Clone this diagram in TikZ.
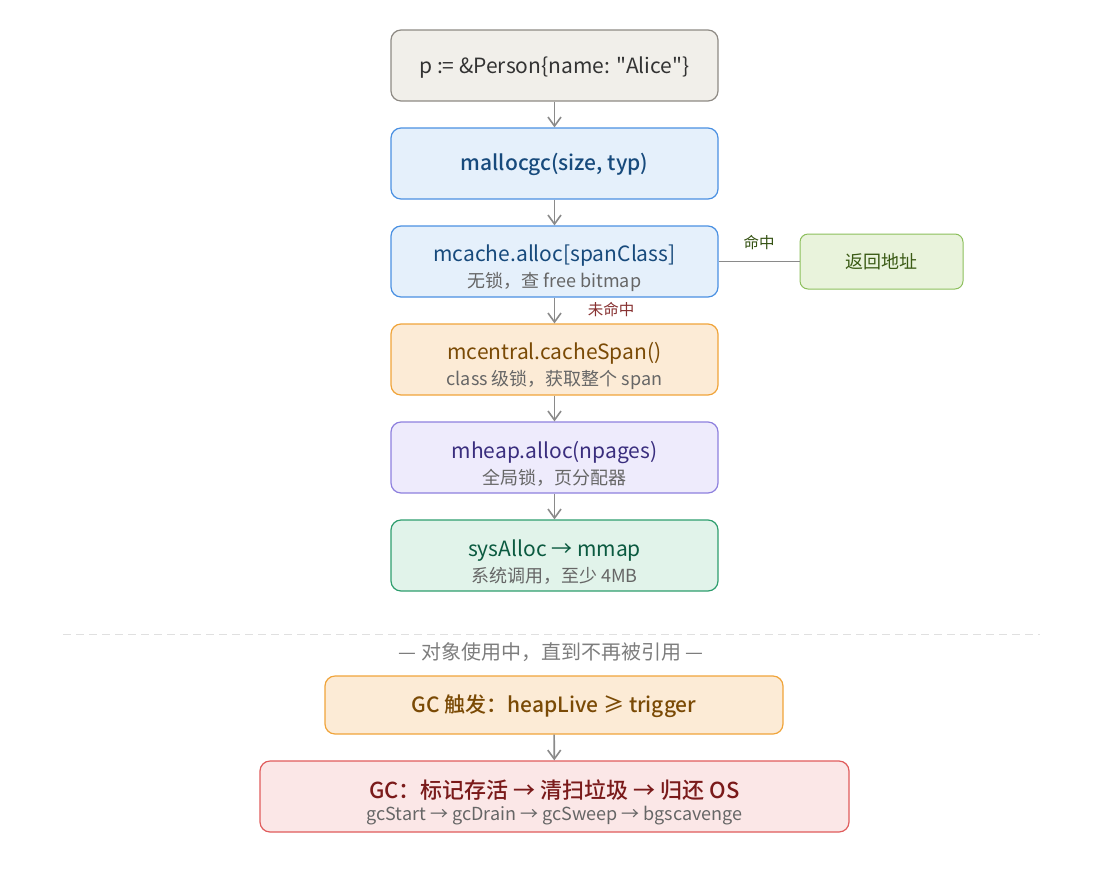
\documentclass[tikz,border=0pt]{standalone}
\usepackage{fontspec}
\setmainfont{Noto Sans CJK SC}[BoldFont={Noto Sans CJK SC Medium}]
\usetikzlibrary{arrows.meta}
\definecolor{lnGray}{HTML}{8A8A8A}
\definecolor{txGray}{HTML}{666666}
\definecolor{srcFill}{HTML}{F1EFEA}
\definecolor{srcLine}{HTML}{8E8A84}
\definecolor{srcText}{HTML}{333333}
\definecolor{blueFill}{HTML}{E5F0FB}
\definecolor{blueLine}{HTML}{4A90E2}
\definecolor{blueText}{HTML}{174A7C}
\definecolor{orFill}{HTML}{FCEBD6}
\definecolor{orLine}{HTML}{F0A43A}
\definecolor{orText}{HTML}{7A4A05}
\definecolor{puFill}{HTML}{EEEBFC}
\definecolor{puLine}{HTML}{8E80DE}
\definecolor{puText}{HTML}{3A2E7E}
\definecolor{grFill}{HTML}{E1F3EA}
\definecolor{grLine}{HTML}{2E9E6E}
\definecolor{grText}{HTML}{0B5A40}
\definecolor{okFill}{HTML}{E9F3DC}
\definecolor{okLine}{HTML}{8CBF5C}
\definecolor{okText}{HTML}{3A5A14}
\definecolor{rdFill}{HTML}{FBE7E7}
\definecolor{rdLine}{HTML}{E05C5C}
\definecolor{rdText}{HTML}{7A1A1A}
\newcommand{\ttl}{\rule{0pt}{20pt}\fontsize{21}{29}\selectfont}
\newcommand{\twoline}[2]{\rule{0pt}{30pt}\fontsize{21}{29}\selectfont #1\\[5pt] \fontsize{18}{28}\selectfont\color{txGray}#2}

\begin{document}
\begin{tikzpicture}[x=1pt,y=-1pt,
  stagebox/.style={rectangle, rounded corners=10pt, line width=1.2pt, minimum width=327pt, minimum height=71pt, inner sep=0pt, align=center, text centered},
  flow/.style={draw=lnGray, line width=1.6pt, -{Straight Barb[length=9pt,width=13pt]}},
  tag/.style={font=\fontsize{15.5}{18}\selectfont, inner sep=0pt}]
\useasboundingbox (0,0) rectangle (1119,868);

\node (src)[stagebox, draw=srcLine, fill=srcFill, text=srcText] at (554.5,65.5) {\ttl p := \&Person\{name: \textquotedbl Alice\textquotedbl\}};
\node (malloc)[stagebox, draw=blueLine, fill=blueFill, text=blueText] at (554.5,163.5) {\ttl\bfseries mallocgc(size, typ)};
\node (mcache)[stagebox, draw=blueLine, fill=blueFill, text=blueText] at (554.5,261.5) {\twoline{mcache.alloc[spanClass]}{无锁，查 free bitmap}};
\node (ret)[rectangle, rounded corners=8pt, line width=1pt, draw=okLine, fill=okFill, text=okText, minimum width=163pt, minimum height=55pt, font=\fontsize{18}{20}\selectfont] at (881.5,261.5) {返回地址};
\node (mcentral)[stagebox, draw=orLine, fill=orFill, text=orText] at (554.5,359.5) {\twoline{mcentral.cacheSpan()}{class 级锁，获取整个 span}};
\node (mheap)[stagebox, draw=puLine, fill=puFill, text=puText] at (554.5,457.5) {\twoline{mheap.alloc(npages)}{全局锁，页分配器}};
\node (sys)[stagebox, draw=grLine, fill=grFill, text=grText] at (554.5,555.5) {\twoline{sysAlloc → mmap}{系统调用，至少 4MB}};

% separator
\draw[draw=black!12, line width=1pt, dash pattern=on 8pt off 5pt] (63,634) -- (1040,634);
\node (life)[inner sep=0pt, text=txGray!85, font=\fontsize{20}{22}\selectfont] at (551,652) {— 对象使用中，直到不再被引用 —};

\node (trig)[stagebox, draw=orLine, fill=orFill, text=orText, minimum width=458pt, minimum height=58pt] at (554,705) {\ttl\bfseries GC 触发：heapLive ≥ trigger};
\node (gc)[stagebox, draw=rdLine, fill=rdFill, text=rdText, minimum width=589pt] at (554.5,796.5) {\twoline{\fontsize{22}{29}\selectfont\bfseries GC：标记存活 → 清扫垃圾 → 归还 OS}{gcStart → gcDrain → gcSweep → bgscavenge}};

\draw[flow] (src) -- (malloc);
\draw[flow] (malloc) -- (mcache);
\draw[flow] (mcache) -- (mcentral);
\draw[flow] (mcentral) -- (mheap);
\draw[flow] (mheap) -- (sys);
\draw[flow] (trig) -- (gc);
\draw[draw=lnGray, line width=1.6pt] (mcache) -- (ret);

\node (hit)[tag, text=okText!90!black] at (759,243) {命中};
\node (miss)[tag, text=rdText!90] at (611,310) {未命中};
\end{tikzpicture}
\end{document}
